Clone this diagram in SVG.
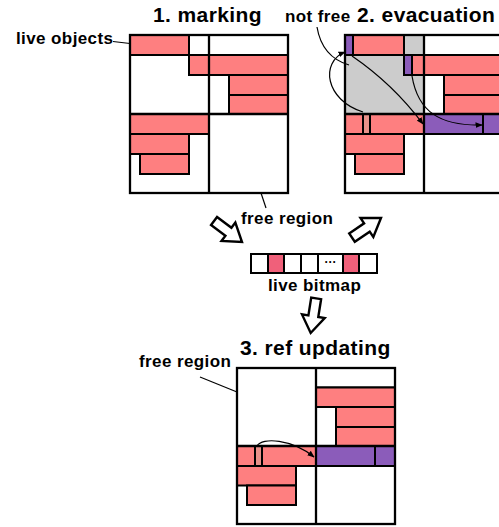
<svg xmlns="http://www.w3.org/2000/svg" width="499" height="527" viewBox="0 0 499 527">
<defs>
<style>
.t{font-family:"Liberation Sans",Arial,sans-serif;font-weight:bold;fill:#000}
.title{font-size:21px;letter-spacing:0.4px}
.lbl{font-size:17px;letter-spacing:0.4px}
.r{fill:#fe7f80;stroke:#000;stroke-width:2}
.p{fill:#8b5cba;stroke:#000;stroke-width:2}
.s{fill:#e8918a;stroke:#000;stroke-width:2}
.w{fill:#fff;stroke:#000;stroke-width:2}
.g{fill:#cccccc;stroke:none}
.fr{fill:none;stroke:#000;stroke-width:2.3}
.ln{fill:none;stroke:#000;stroke-width:1.2}
.bm{fill:#fff;stroke:#000;stroke-width:2}
.bmr{fill:#f0607a;stroke:#000;stroke-width:2}
.blk{fill:#fff;stroke:#000;stroke-width:2.4;stroke-linejoin:miter}
</style>
<marker id="ah" viewBox="0 0 10 10" refX="9" refY="5" markerWidth="6" markerHeight="6" orient="auto">
<path d="M0,1 L10,5 L0,9 Z" fill="#000"/>
</marker>
<path id="bigArrow" d="M0,-5 L18,-5 L18,-11.5 L35,0 L18,11.5 L18,5 L0,5 Z"/>
</defs>
<rect width="499" height="527" fill="#fff"/>

<g id="panel1">
<text class="t title" x="153" y="22">1. marking</text>
<rect class="r" x="130" y="35" width="59" height="20"/>
<rect class="w" x="189" y="35" width="20" height="20"/>
<rect class="w" x="209" y="35" width="79" height="20"/>
<rect class="r" x="189" y="55" width="20" height="20"/>
<rect class="r" x="209" y="55" width="79" height="20"/>
<rect class="w" x="209" y="75" width="20" height="39"/>
<rect class="r" x="229" y="75" width="59" height="20"/>
<rect class="r" x="229" y="95" width="59" height="19"/>
<rect class="r" x="130" y="114" width="79" height="20"/>
<rect class="r" x="130" y="134" width="59" height="20"/>
<rect class="r" x="140" y="154" width="49" height="20"/>
<rect class="fr" x="130" y="35" width="158" height="158"/>
<line class="fr" x1="209" y1="35" x2="209" y2="193"/>
<line class="fr" x1="130" y1="114" x2="288" y2="114"/>
</g>

<g id="panel2">
<text class="t title" x="357" y="22">2. evacuation</text>
<rect class="g" x="345" y="55" width="79" height="59"/>
<rect class="g" x="404" y="35" width="20" height="20"/>
<rect class="p" x="345" y="35" width="8" height="20"/>
<rect class="r" x="353" y="35" width="51" height="20"/>
<rect class="w" x="424" y="35" width="79" height="20"/>
<rect class="p" x="404" y="55" width="8" height="20"/>
<rect class="r" x="412" y="55" width="12" height="20"/>
<rect class="r" x="424" y="55" width="79" height="20"/>
<rect class="w" x="424" y="75" width="20" height="39"/>
<rect class="r" x="444" y="75" width="59" height="20"/>
<rect class="r" x="444" y="95" width="59" height="19"/>
<rect class="r" x="345" y="114" width="18" height="20"/>
<rect class="s" x="363" y="114" width="7" height="20"/>
<rect class="r" x="370" y="114" width="54" height="20"/>
<rect class="p" x="424" y="114" width="59" height="20"/>
<rect class="p" x="483" y="114" width="20" height="20"/>
<rect class="r" x="345" y="134" width="59" height="20"/>
<rect class="r" x="355" y="154" width="49" height="20"/>
<rect class="fr" x="345" y="35" width="158" height="158"/>
<line class="fr" x1="424" y1="35" x2="424" y2="193"/>
<line class="fr" x1="345" y1="114" x2="503" y2="114"/>
</g>

<g id="bitmap">
<rect class="bm" x="251" y="254" width="17" height="19"/>
<rect class="bmr" x="268" y="254" width="16" height="19"/>
<rect class="bm" x="284" y="254" width="17" height="19"/>
<rect class="bm" x="301" y="254" width="17" height="19"/>
<rect class="bm" x="318" y="254" width="25" height="19"/>
<rect class="bmr" x="343" y="254" width="16" height="19"/>
<rect class="bm" x="359" y="254" width="18" height="19"/>
<text class="t" x="330.5" y="266" font-size="12" text-anchor="middle">···</text>
<text class="t lbl" x="268" y="291">live bitmap</text>
</g>

<g id="panel3">
<text class="t title" x="240" y="355">3. ref updating</text>
<rect class="w" x="316" y="368" width="79" height="19.5"/>
<rect class="r" x="316" y="387.5" width="79" height="19.5"/>
<rect class="r" x="336" y="407" width="59" height="20"/>
<rect class="r" x="336" y="427" width="59" height="19"/>
<rect class="r" x="237" y="446" width="18" height="20"/>
<rect class="s" x="255" y="446" width="7" height="20"/>
<rect class="r" x="262" y="446" width="54" height="20"/>
<rect class="p" x="316" y="446" width="59" height="20"/>
<rect class="p" x="375" y="446" width="20" height="20"/>
<rect class="r" x="237" y="466" width="59" height="19.5"/>
<rect class="r" x="247" y="485.5" width="49" height="19.5"/>
<rect class="fr" x="237" y="368" width="158" height="156"/>
<line class="fr" x1="316" y1="368" x2="316" y2="524"/>
<line class="fr" x1="237" y1="446" x2="395" y2="446"/>
</g>

<g id="labels">
<text class="t lbl" x="16" y="44">live objects</text>
<text class="t lbl" x="285" y="22">not free</text>
<text class="t lbl" x="241" y="224">free region</text>
<text class="t lbl" x="139" y="367">free region</text>
</g>

<g id="connectors">
<path class="ln" d="M113,41.5 L130,43.5"/>
<path class="ln" d="M261,193 L266,208"/>
<path class="ln" d="M200,377 L237,392"/>
<path class="ln" d="M317,27 Q322,57 349,65"/>
<path class="ln" d="M363,112 C325,100 320,62 345,52" marker-end="url(#ah)"/>
<path class="ln" d="M352,56 Q393,84 423,124" marker-end="url(#ah)"/>
<path class="ln" d="M412,76 C418,112 440,126 482,125" marker-end="url(#ah)"/>
<path class="ln" d="M257,446 C262,437 292,439 314,457" marker-end="url(#ah)"/>
<use href="#bigArrow" class="blk" transform="translate(242,242) rotate(37) translate(-35,0)"/>
<use href="#bigArrow" class="blk" transform="translate(381,218) rotate(-34) translate(-35,0)"/>
<use href="#bigArrow" class="blk" transform="translate(311,331) rotate(99) translate(-33,0)"/>
</g>
</svg>
